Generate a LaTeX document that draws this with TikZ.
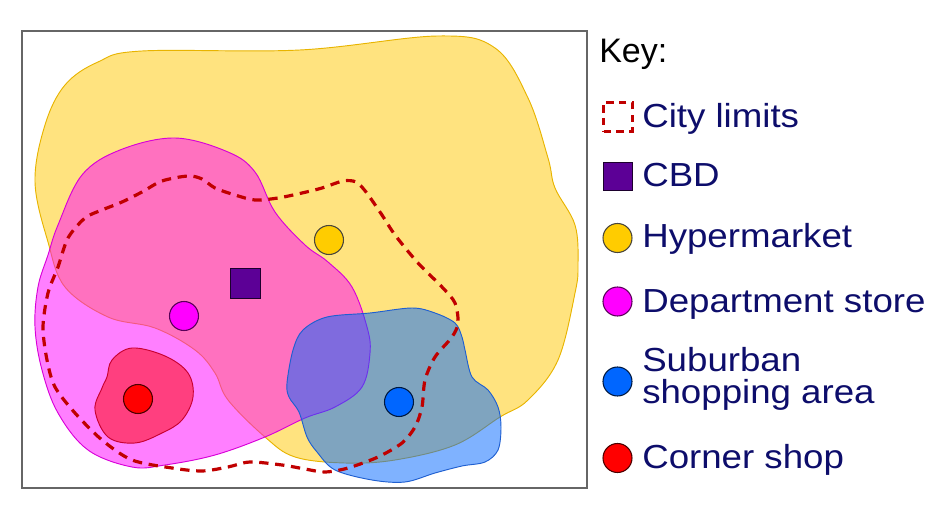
\documentclass[tikz,border=0pt]{standalone}
\usepackage{fontspec}
\setmainfont{Liberation Sans}
\newfontfamily\legfam{Liberation Sans}[FakeStretch=1.1]
\newcommand\legfont{\legfam\fontsize{25}{23.6}\selectfont}
\newcommand\keyfont{\fontsize{25.5}{28}\selectfont}
\definecolor{yfill}{HTML}{FFC800}
\definecolor{yline}{HTML}{E8B400}
\definecolor{mfill}{HTML}{FF00FF}
\definecolor{mline}{HTML}{D800D8}
\definecolor{bfill}{HTML}{0066FF}
\definecolor{bline}{HTML}{1F5FD0}
\definecolor{rfill}{HTML}{FF0000}
\definecolor{rline}{HTML}{C80030}
\definecolor{citycol}{HTML}{C00000}
\definecolor{navy}{HTML}{0D0D6B}
\definecolor{framecol}{HTML}{666666}
\definecolor{cbdcol}{HTML}{5C0096}
\definecolor{hypdot}{HTML}{FFCC00}
\definecolor{bluedot}{HTML}{0066FF}
\tikzset{
  blob/.style={fill opacity=0.5, line width=0.7pt},
  dotnode/.style={circle, inner sep=0pt, minimum size=21.75pt, line width=0.8pt},
  legtext/.style={anchor=base west, inner sep=0pt, text=navy, font=\legfont},
  citylimit/.style={draw=citycol, line width=2.4pt, dash pattern=on 7pt off 5pt},
}
\begin{document}
\begin{tikzpicture}[x=0.75pt,y=-0.75pt]
\useasboundingbox (0,0) rectangle (941,505);
% frame
\draw[framecol, line width=1.1pt] (22,31) rectangle (587,488);
% hypermarket sphere
\draw[blob, fill=yfill, draw=yline] plot[smooth cycle, tension=0.6] coordinates {
 (142,51) (300,50) (438,36) (495,48) (528,98) (548,158) (555,188) (575,225)
 (578,265) (575,293) (558,360) (528,400) (500,417) (455,445) (395,460) (345,463)
 (295,457) (265,437) (228,400) (215,373) (195,350) (155,328) (108,317) (65,287)
 (48,242) (35,182) (45,125) (65,85) (98,62)};
% department store sphere
\draw[blob, fill=mfill, draw=mline] plot[smooth cycle, tension=0.6] coordinates {
 (175,138) (228,152) (255,172) (275,212) (305,245) (328,262) (352,287) (367,327)
 (370,353) (362,387) (335,407) (305,418) (265,437) (215,455) (165,465) (132,467)
 (88,450) (58,413) (42,370) (35,327) (38,287) (48,255) (58,225) (82,175) (120,150)};
% corner shop sphere
\draw[blob, fill=rfill, draw=rline] plot[smooth cycle, tension=0.6] coordinates {
 (132,348) (165,356) (188,373) (193,397) (182,420) (162,433) (135,443) (108,437)
 (95,410) (102,388) (107,377) (112,360)};
% suburban sphere
\draw[blob, fill=bfill, draw=bline] plot[smooth cycle, tension=0.55] coordinates {
 (303,330) (327,317) (370,313) (412,308) (435,313) (455,323) (462,337) (465,350)
 (472,377) (488,390) (498,407) (501,427) (498,450) (485,462) (462,466) (435,473)
 (405,482) (372,480) (335,470) (317,452) (307,437) (299,412) (289,397) (287,383)
 (293,350)};
% city limits
\draw[citylimit] plot[smooth cycle, tension=0.5] coordinates {
 (58,267) (68,238) (85,218) (102,210) (122,202) (142,192) (162,181) (188,176)
 (202,179) (215,188) (235,195) (255,200) (278,198) (302,193) (322,188) (343,181)
 (356,182) (366,192) (382,215) (395,235) (418,263) (442,287) (455,303) (458,323)
 (452,337) (435,357) (425,380) (422,407) (415,427) (402,443) (378,457) (348,468)
 (325,472) (305,469) (282,465) (250,462) (228,467) (202,471) (172,468) (132,460)
 (102,440) (75,413) (55,387) (47,360) (43,327) (48,293)};
% points
\node[dotnode, fill=hypdot, draw=black!70!yellow!60!black] (hyp) at (329,240) {};
\node[dotnode, fill=mfill, draw=black!65!mfill] (dept) at (184,316) {};
\node[draw=black!70!cbdcol, fill=cbdcol, line width=0.8pt, inner sep=0pt, minimum size=22pt] (cbd) at (245.5,283.5) {};
\node[dotnode, fill=bluedot, draw=black!75!bluedot] (sub) at (399,402) {};
\node[dotnode, fill=rfill, draw=black!70!rfill] (corner) at (138,399) {};
% key
\node[anchor=base west, inner sep=0pt, font=\keyfont] (key) at (599,63) {Key:};
\node[draw=citycol, line width=1.8pt, dash pattern=on 5.5pt off 4pt, inner sep=0pt, minimum size=21.5pt] (kcity) at (618,117) {};
\node[legtext] (tcity) at (642,128) {City limits};
\node[draw=black!70!cbdcol, fill=cbdcol, line width=0.8pt, inner sep=0pt, minimum size=21.5pt] (kcbd) at (618,176.5) {};
\node[legtext] (tcbd) at (642,187) {CBD};
\node[dotnode, fill=hypdot, draw=black!70!yellow!60!black] (khyp) at (617.5,238) {};
\node[legtext] (thyp) at (642,248) {Hypermarket};
\node[dotnode, fill=mfill, draw=black!65!mfill] (kdept) at (617.5,301.5) {};
\node[legtext] (tdept) at (642,313) {Department store};
\node[dotnode, fill=bluedot, draw=black!75!bluedot] (ksub) at (617.5,381.5) {};
\node[legtext, align=left] (tsub) at (642,403) {Suburban\\shopping area};
\node[dotnode, fill=rfill, draw=black!70!rfill] (kcorner) at (617.5,458) {};
\node[legtext] (tcorner) at (642,468) {Corner shop};
\end{tikzpicture}
\end{document}
